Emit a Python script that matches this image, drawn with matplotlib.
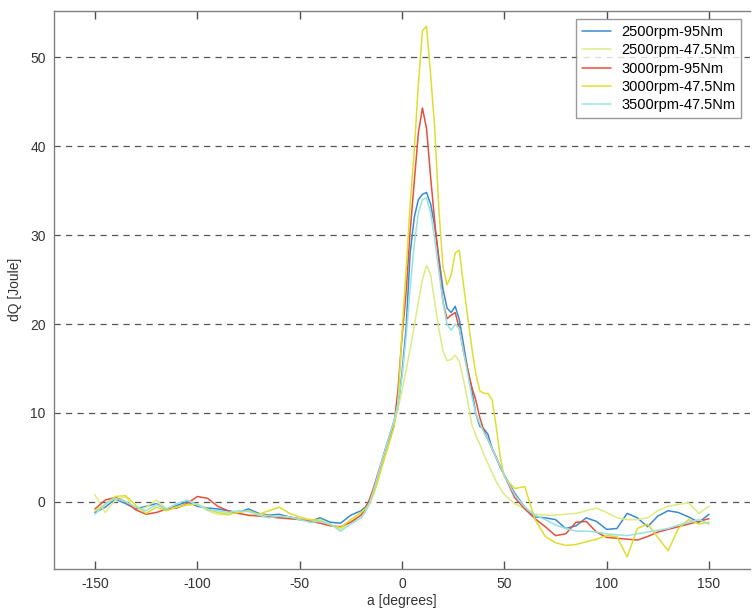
import matplotlib
matplotlib.use("Agg")
import matplotlib.pyplot as plt

plt.rcParams['font.family'] = ['Liberation Sans', 'DejaVu Sans']
plt.rcParams['axes.unicode_minus'] = False
plt.rcParams['xtick.major.size'] = 6
plt.rcParams['xtick.major.width'] = 1.0
plt.rcParams['xtick.direction'] = 'in'
plt.rcParams['xtick.top'] = True
plt.rcParams['xtick.bottom'] = True

# crank angle sample points [degrees]
angle = [-150, -145, -140, -135, -130, -125, -120, -115, -110, -105, -100, -95, -90,
         -85, -80, -75, -70, -65, -60, -55, -50, -45, -40, -35, -30, -25,
         -20, -18, -16, -14, -12, -10, -8, -6, -4, -2, 0, 2, 4, 6, 8, 10, 12, 14,
         16, 18, 20, 22, 24, 26, 28, 30, 32, 34, 36, 38, 40, 42, 44, 46, 48, 50,
         55, 60, 65, 70, 75, 80, 85, 90, 95, 100, 105, 110, 115, 120, 125, 130,
         135, 140, 145, 150]

# heat release dQ [J] for each operating point
dq_2500_95 = [-1.2, -0.6, 0.3, -0.2, -0.8, -0.5, -0.2, -0.9, -0.4, 0.0, -0.5, -0.7, -0.8,
              -1.0, -1.2, -0.8, -1.3, -1.5, -1.4, -1.7, -1.9, -2.2, -1.8, -2.3, -2.4, -1.5,
              -1.0, -0.6, 0.0, 1.0, 2.5, 4.3, 6.0, 7.5, 9.0, 10.5, 14.5, 19.5, 28.0, 32.0,
              34.0, 34.6, 34.8, 33.5, 31.0, 27.5, 24.0, 21.8, 21.3, 22.0, 20.5, 17.8, 15.0,
              12.8, 10.0, 8.5, 8.2, 7.6, 6.0, 5.0, 3.9, 3.0,
              1.0, -0.6, -1.7, -1.8, -2.0, -3.0, -2.7, -1.8, -2.2, -3.1, -3.0, -1.3, -1.8,
              -2.8, -1.6, -1.0, -1.2, -1.7, -2.3, -1.4]

dq_2500_475 = [0.8, -1.2, 0.2, 0.6, -1.0, -0.6, 0.2, -0.8, -0.6, -0.4, -0.2, -1.0, -1.4,
               -1.5, -1.1, -1.6, -1.4, -1.6, -1.7, -1.8, -1.9, -2.2, -2.0, -2.6, -3.1, -2.2,
               -1.5, -1.0, -0.3, 0.8, 2.2, 3.8, 5.5, 7.0, 8.8, 10.5, 12.5, 14.8, 17.2, 19.8,
               22.5, 25.0, 26.6, 25.5, 22.5, 19.5, 17.0, 15.9, 16.0, 16.5, 15.8, 13.8, 11.5,
               8.8, 7.5, 6.5, 5.3, 4.3, 3.3, 2.3, 1.5, 0.8,
               -0.2, -0.8, -1.4, -1.5, -1.5, -1.4, -1.3, -1.0, -0.7, -1.2, -1.8, -2.0, -2.0,
               -1.8, -1.0, -0.5, -0.3, -0.1, -1.3, -0.5]

dq_3000_95 = [-0.8, 0.2, 0.5, 0.0, -0.9, -1.4, -1.2, -0.8, -0.7, -0.2, 0.6, 0.4, -0.5,
              -1.0, -1.3, -1.5, -1.6, -1.7, -1.8, -1.9, -2.0, -2.2, -2.4, -2.7, -2.8, -2.3,
              -1.5, -0.8, 0.2, 1.5, 3.0, 4.5, 6.0, 7.3, 8.5, 12.5, 18.5, 23.5, 30.5, 36.0,
              41.5, 44.3, 42.0, 36.5, 31.5, 27.0, 22.5, 20.6, 21.0, 21.3, 19.5, 17.0, 15.0,
              13.0, 11.5, 9.5, 8.0, 7.0, 6.0, 5.0, 4.0, 3.0,
              0.5, -0.8, -1.9, -2.8, -3.8, -3.6, -2.3, -2.2, -3.4, -4.0, -4.1, -4.2, -4.3,
              -3.9, -3.4, -3.1, -2.8, -2.5, -2.2, -1.9]

dq_3000_475 = [-1.0, -0.3, 0.6, 0.7, -0.4, -1.3, -0.6, -1.0, -0.6, -0.3, -0.3, -0.8, -1.2,
               -1.4, -1.2, -1.0, -1.4, -1.0, -0.6, -1.3, -1.7, -2.0, -2.1, -2.6, -2.9, -2.0,
               -1.2, -0.8, -0.2, 0.8, 2.2, 3.8, 5.3, 6.8, 8.3, 11.0, 19.0, 26.0, 33.5, 39.5,
               47.0, 53.0, 53.5, 48.0, 42.0, 33.0, 26.5, 24.4, 25.5, 28.0, 28.3, 24.5, 21.0,
               17.5, 14.5, 12.5, 12.2, 12.2, 11.5, 8.5, 5.0, 2.8,
               1.5, 1.7, -2.0, -3.9, -4.6, -4.9, -4.8, -4.5, -4.2, -3.8, -3.9, -6.2, -3.0,
               -2.5, -4.0, -5.5, -3.0, -2.0, -2.5, -2.3]

dq_3500_475 = [-1.4, -0.2, 0.4, 0.0, -0.6, -1.0, -0.3, -0.8, -0.2, 0.2, -0.3, -0.9, -1.0,
               -1.2, -1.0, -1.1, -1.5, -1.8, -1.6, -1.7, -2.0, -2.3, -2.2, -2.5, -3.3, -2.5,
               -1.8, -1.2, -0.2, 1.2, 2.8, 4.5, 6.0, 7.5, 9.0, 11.0, 14.0, 18.5, 24.0, 29.0,
               32.5, 34.0, 34.2, 32.5, 29.5, 26.0, 22.5, 20.0, 19.3, 20.0, 19.5, 17.0, 14.5,
               12.0, 10.0, 8.8, 7.8, 7.0, 6.0, 5.0, 4.0, 3.0,
               0.8, -0.6, -1.5, -2.0, -2.6, -3.0, -3.3, -3.3, -3.4, -3.6, -3.7, -3.8, -3.6,
               -3.4, -3.2, -3.0, -2.6, -2.3, -2.0, -2.5]

series = [
    ("2500rpm-95Nm", dq_2500_95, "#3a8ad0"),
    ("2500rpm-47.5Nm", dq_2500_475, "#dcec82"),
    ("3000rpm-95Nm", dq_3000_95, "#e4513c"),
    ("3000rpm-47.5Nm", dq_3000_475, "#dede30"),
    ("3500rpm-47.5Nm", dq_3500_475, "#98e2e0"),
]

fig = plt.figure(figsize=(7.52, 6.16), dpi=100)
ax = fig.add_axes([0.0718, 0.0771, 0.9255, 0.9055])

for name, vals, col in series:
    ax.plot(angle, vals, color=col, lw=1.1, label=name,
            solid_joinstyle="round", solid_capstyle="round")

ax.set_xlim(-170, 170)
ax.set_ylim(-7.5, 55.25)
ax.set_xticks([-150, -100, -50, 0, 50, 100, 150])
ax.set_yticks([0, 10, 20, 30, 40, 50])

# dashed horizontal grid only
for yv in [0, 10, 20, 30, 40, 50]:
    ax.axhline(yv, color="#555555", lw=0.9, linestyle=(0, (5.0, 4.2)), zorder=0)

for s in ax.spines.values():
    s.set_color("#808080")
    s.set_linewidth(1.0)
ax.spines["right"].set_visible(False)
ax.xaxis.set_ticks_position("both")
ax.tick_params(axis="x", which="major", direction="in", length=6, width=1.0,
               color="#505050", labelsize=10, labelcolor="#333333", pad=6)
ax.tick_params(axis="y", which="major", direction="in", length=0,
               labelsize=10, labelcolor="#333333", pad=6)

ax.set_xlabel("a [degrees]", fontsize=10, color="#333333", labelpad=2)
ax.set_ylabel("dQ [Joule]", fontsize=10, color="#333333", labelpad=6)

leg = ax.legend(loc="upper left", bbox_to_anchor=(0.75, 0.985), fontsize=10.5,
                frameon=True, fancybox=False, edgecolor="#808080",
                handlelength=2.0, handletextpad=0.7, labelspacing=0.3,
                borderpad=0.4, borderaxespad=0.0)
leg.get_frame().set_linewidth(1.0)

fig.savefig("out.png", dpi=100)
